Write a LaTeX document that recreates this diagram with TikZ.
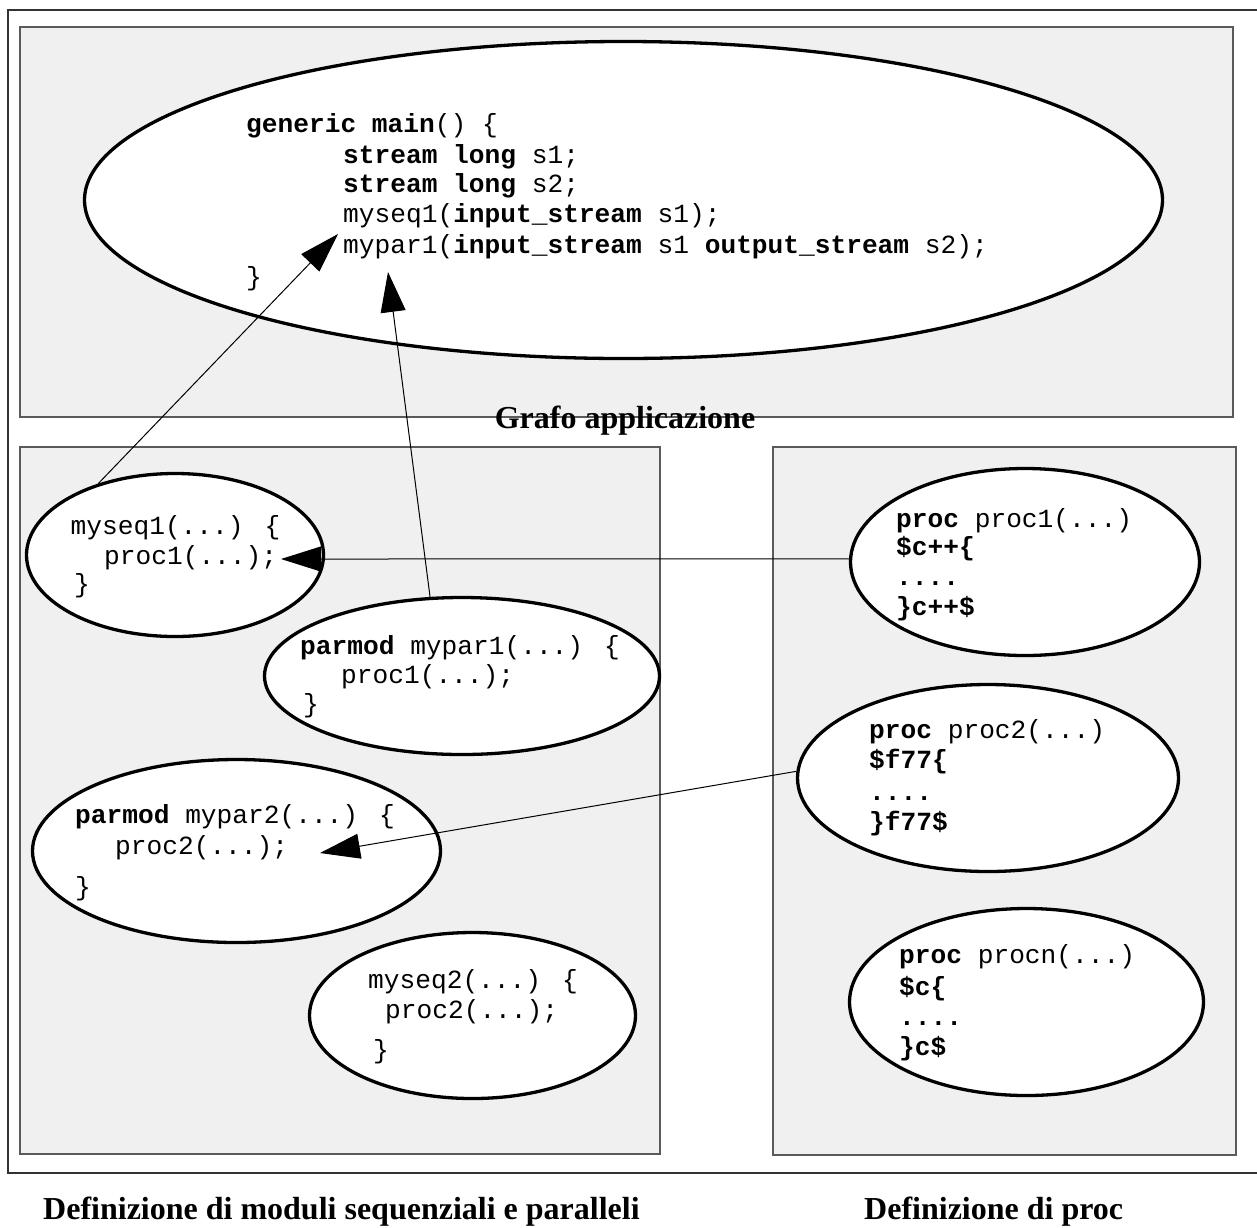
\documentclass[tikz,border=0pt]{standalone}
\usepackage{fontspec}
\setmainfont{Liberation Serif}
\newfontfamily\codefont{Liberation Mono}
\usetikzlibrary{arrows.meta,shapes.geometric}
\definecolor{panelgray}{HTML}{F0F0F0}
\definecolor{panelline}{HTML}{5A5A5A}
\definecolor{frameline}{HTML}{333333}
\tikzset{
  panel/.style={fill=panelgray, draw=panelline, line width=1.2pt},
  ell/.style={ellipse, draw=black, fill=white, line width=3.3pt, inner sep=0pt},
  code/.style={anchor=base west, inner sep=0pt, font=\codefont\fontsize{26.2}{30}\selectfont},
  title/.style={inner sep=0pt, font=\bfseries\fontsize{32}{36}\selectfont},
  conn/.style={draw=black, line width=1pt, -{Triangle[length=40pt,width=25pt]}},
}
\begin{document}
\begin{tikzpicture}[x=1pt,y=-1pt]
\useasboundingbox (0,0) rectangle (1257,1227);
% outer frame
\draw[frameline, line width=1.3pt] (1257,10) -- (8,10) -- (8,1173) -- (1257,1173);
% panels
\draw[panel] (20,27) rectangle (1233,417);
\draw[panel] (20,447) rectangle (660,1154);
\draw[panel] (773,447) rectangle (1236,1155);
% ellipses
\node[ell, minimum width=1078pt, minimum height=317pt] (main) at (623.5,200) {};
\node[ell, minimum width=297pt, minimum height=163pt] (myseq1) at (175,555) {};
\node[ell, minimum width=395pt, minimum height=157pt] (mypar1) at (462,676) {};
\node[ell, minimum width=408pt, minimum height=183pt] (mypar2) at (236.5,851) {};
\node[ell, minimum width=326pt, minimum height=166pt] (myseq2) at (472.5,1015.5) {};
\node[ell, minimum width=349pt, minimum height=187pt] (proc1) at (1025,562) {};
\node[ell, minimum width=381pt, minimum height=187pt] (proc2) at (988,778) {};
\node[ell, minimum width=354pt, minimum height=187pt] (procn) at (1026.5,1002) {};
% main code
\node[code] (m1) at (246,132) {\textbf{generic main}() \{};
\node[code] (m2) at (343,163) {\textbf{stream long} s1;};
\node[code] (m3) at (343,192) {\textbf{stream long} s2;};
\node[code] (m4) at (343,222) {myseq1(\textbf{input\_stream} s1);};
\node[code] (m5) at (343,253) {mypar1(\textbf{input\_stream} s1 \textbf{output\_stream} s2);};
\node[code] (m6) at (246,285) {\}};
% myseq1
\node[code] (a1) at (70.5,534) {myseq1(...) \{};
\node[code] (a2) at (104,564) {proc1(...);};
\node[code] (a3) at (74,592) {\}};
% mypar1
\node[code] (b1) at (300,654) {\textbf{parmod} mypar1(...) \{};
\node[code] (b2) at (341,683) {proc1(...);};
\node[code] (b3) at (303,712) {\}};
% mypar2
\node[code] (c1) at (75,823) {\textbf{parmod} mypar2(...) \{};
\node[code] (c2) at (115,854) {proc2(...);};
\node[code] (c3) at (75,895) {\}};
% myseq2
\node[code] (d1) at (368,988) {myseq2(...) \{};
\node[code] (d2) at (385,1018) {proc2(...);};
\node[code] (d3) at (373,1058) {\}};
% proc1
\node[code] (p11) at (896,527) {\textbf{proc} proc1(...)};
\node[code] (p12) at (896,555) {\textbf{\$c++\{}};
\node[code] (p13) at (896,585) {\textbf{....}};
\node[code] (p14) at (896,615) {\textbf{\}c++\$}};
% proc2
\node[code] (p21) at (869,738) {\textbf{proc} proc2(...)};
\node[code] (p22) at (869,768) {\textbf{\$f77\{}};
\node[code] (p23) at (869,800) {\textbf{....}};
\node[code] (p24) at (869,830) {\textbf{\}f77\$}};
% procn
\node[code] (pn1) at (899,963) {\textbf{proc} procn(...)};
\node[code] (pn2) at (899,995) {\textbf{\$c\{}};
\node[code] (pn3) at (899,1025) {\textbf{....}};
\node[code] (pn4) at (899,1055) {\textbf{\}c\$}};
% titles
\node[title, anchor=base] (t1) at (625,428) {Grafo applicazione};
\node[title, anchor=base west] (t2) at (43,1219) {Definizione di moduli sequenziali e paralleli};
\node[title, anchor=base west] (t3) at (864,1219) {Definizione di proc};
% connectors
\coordinate (tip1) at (338,234);
\coordinate (tip2) at (388,272);
\coordinate (tip3) at (281,559);
\coordinate (tip4) at (320,853);
\draw[conn] (myseq1.137) -- (tip1);
\draw[conn] (mypar1.112) -- (tip2);
\draw[conn] (proc1.179) -- (tip3);
\draw[conn] (proc2.178) -- (tip4);
\end{tikzpicture}
\end{document}
